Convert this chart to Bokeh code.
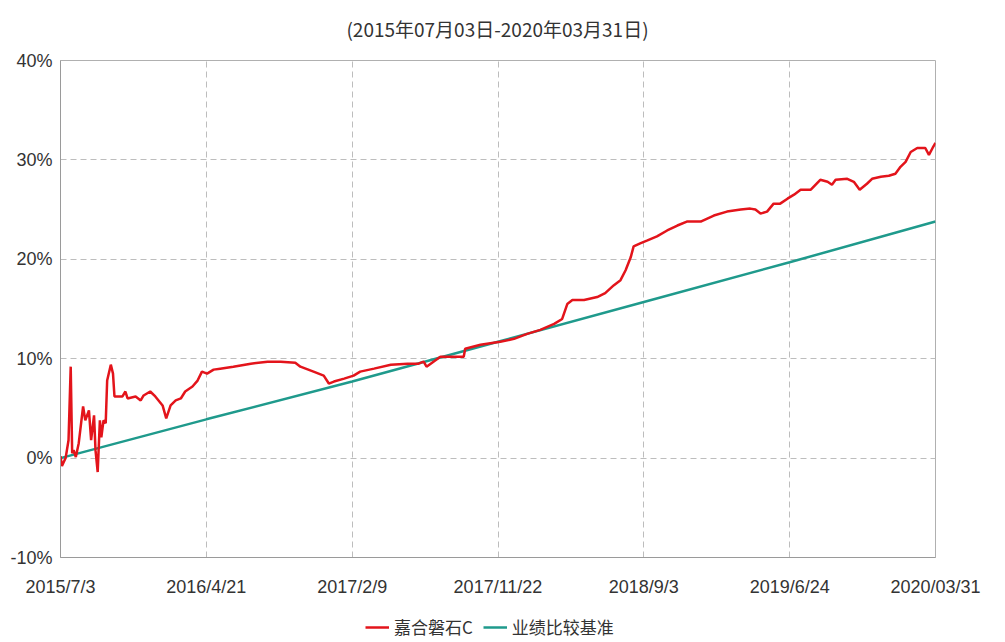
from bokeh.plotting import figure
from bokeh.models import FixedTicker, Legend, LegendItem, Range1d, Label
from bokeh.layouts import column
from bokeh.embed import file_html
from bokeh.resources import INLINE

# ---- data ----
title_text = "(2015年07月03日-2020年03月31日)"
x_tick_pos = [0, 200, 400, 600, 800, 1000, 1200]
x_tick_labels = ["2015/7/3", "2016/4/21", "2017/2/9", "2017/11/22", "2018/9/3", "2019/6/24", "2020/03/31"]
y_ticks = [-10, 0, 10, 20, 30, 40]

fund_name = "嘉合磐石C"
bench_name = "业绩比较基准"

fund_x = [0, 2, 7, 11, 14, 16, 18, 21, 25, 31, 34, 39, 42, 46, 48, 51, 54, 56, 59, 62,
          64, 69, 72, 74, 85, 89, 92, 103, 110, 114, 123, 130, 140, 145, 151, 158, 165, 171,
          181, 188, 194, 201, 210, 219, 237, 261, 284, 302, 322, 329, 347, 361, 368, 375,
          389, 402, 411, 430, 453, 476, 491, 498, 502, 521, 544, 553, 555, 576, 603, 622,
          640, 658, 677, 688, 695, 702, 718, 736, 747, 759, 768, 775, 782, 786, 795, 805,
          818, 832, 846, 859, 878, 887, 896, 914, 933, 946, 953, 960, 969, 978, 987, 997,
          1006, 1015, 1029, 1042, 1052, 1058, 1063, 1079, 1088, 1096, 1106, 1113, 1125,
          1136, 1145, 1152, 1159, 1166, 1175, 1186, 1191, 1196, 1200]
fund_y = [0.2, -0.8, 0.0, 1.8, 9.2, 0.5, 0.8, 0.1, 1.5, 5.2, 3.8, 4.8, 1.8, 4.3, 0.8, -1.4,
          3.8, 2.1, 3.8, 3.5, 7.8, 9.4, 8.5, 6.2, 6.2, 6.7, 6.0, 6.2, 5.8, 6.3, 6.7, 6.2, 5.3,
          4.0, 5.3, 5.8, 6.0, 6.7, 7.2, 7.8, 8.7, 8.5, 8.9, 9.0, 9.2, 9.5, 9.7, 9.7, 9.6, 9.2,
          8.7, 8.3, 7.5, 7.7, 8.0, 8.3, 8.7, 9.0, 9.4, 9.5, 9.5, 9.7, 9.2, 10.2, 10.2, 10.2,
          11.0, 11.4, 11.7, 12.0, 12.5, 12.9, 13.5, 14.0, 15.5, 15.9, 15.9, 16.2, 16.6, 17.4,
          17.9, 18.9, 20.2, 21.3, 21.6, 21.9, 22.3, 22.9, 23.4, 23.8, 23.8, 24.1, 24.4, 24.8,
          25.0, 25.1, 25.0, 24.6, 24.8, 25.6, 25.6, 26.1, 26.5, 27.0, 27.0, 28.0, 27.8, 27.5,
          28.0, 28.1, 27.8, 27.0, 27.6, 28.1, 28.3, 28.4, 28.6, 29.3, 29.8, 30.8, 31.2, 31.2,
          30.5, 31.2, 31.7]

bench_x = [0, 200, 400, 600, 800, 1000, 1200]
bench_y = [0.0, 3.9, 7.7, 11.7, 15.7, 19.7, 23.8]

RED = "#e3141b"
GREEN = "#1f9a8c"

W = 1005
H_TITLE, H_MAIN, H_LEG = 50, 564, 28


def strip(h):
    f = figure(width=W, height=h, output_backend="svg", toolbar_location=None,
               x_range=Range1d(0, 1200), y_range=Range1d(500, 501),
               x_axis_location=None, y_axis_location=None,
               min_border_left=0, min_border_right=0, min_border_top=0, min_border_bottom=0)
    f.grid.visible = False
    f.outline_line_color = None
    f.background_fill_color = "white"
    f.border_fill_color = "white"
    return f


# title strip (its frame is aligned with the chart frame, which starts 60px in)
tf = strip(H_TITLE)
tf.add_layout(Label(x=437, y=22, x_units="screen", y_units="screen", text=title_text,
                    text_align="center", text_baseline="middle",
                    text_font="Noto Sans CJK SC", text_font_size="19px", text_color="#333333"))

# main chart
p = figure(width=W, height=H_MAIN, output_backend="svg", toolbar_location=None,
           x_range=Range1d(0, 1200), y_range=Range1d(-10, 40),
           min_border_left=60, min_border_right=70, min_border_top=10, min_border_bottom=57)
p.background_fill_color = "white"
p.border_fill_color = "white"
p.outline_line_color = "#b0b0b0"
p.outline_line_width = 1

for ax in (p.xaxis[0], p.yaxis[0]):
    ax.axis_line_color = "#9a9a9a"
    ax.major_tick_line_color = None
    ax.minor_tick_line_color = None
    ax.major_tick_out = 0
    ax.major_tick_in = 0
    ax.major_label_text_font = "Liberation Sans Narrow, Liberation Sans, sans-serif"
    ax.major_label_text_font_size = "18px"
    ax.major_label_text_color = "#333333"

p.xaxis.ticker = FixedTicker(ticks=x_tick_pos)
p.xaxis.major_label_overrides = {t: l for t, l in zip(x_tick_pos, x_tick_labels)}
p.xaxis.major_label_standoff = 19
p.yaxis.ticker = FixedTicker(ticks=y_ticks)
p.yaxis.major_label_overrides = {t: f"{t}%" for t in y_ticks}
p.yaxis.major_label_standoff = 8

for g in (p.xgrid[0], p.ygrid[0]):
    g.grid_line_color = "#bdbdbd"
    g.grid_line_dash = "6 4"
    g.grid_line_width = 1

p.line(bench_x, bench_y, line_color=GREEN, line_width=2.5)
p.line(fund_x, fund_y, line_color=RED, line_width=2.5)

# legend strip below the chart (its series lie outside this strip's view)
lg = strip(H_LEG)
lr_fund = lg.line(fund_x, fund_y, line_color=RED, line_width=2.5)
lr_bench = lg.line(bench_x, bench_y, line_color=GREEN, line_width=2.5)

legend = Legend(items=[LegendItem(label=fund_name, renderers=[lr_fund]),
                       LegendItem(label=bench_name, renderers=[lr_bench])],
                orientation="horizontal", location=(305, 3),
                label_text_font="Noto Sans CJK SC", label_text_font_size="17px",
                label_text_color="#333333", glyph_width=24, glyph_height=16,
                label_standoff=5, spacing=10, padding=0, margin=0,
                border_line_color=None, background_fill_alpha=0)
lg.add_layout(legend, "center")

layout = column(tf, p, lg, spacing=0)
open("out.html", "w").write(file_html(layout, INLINE))
